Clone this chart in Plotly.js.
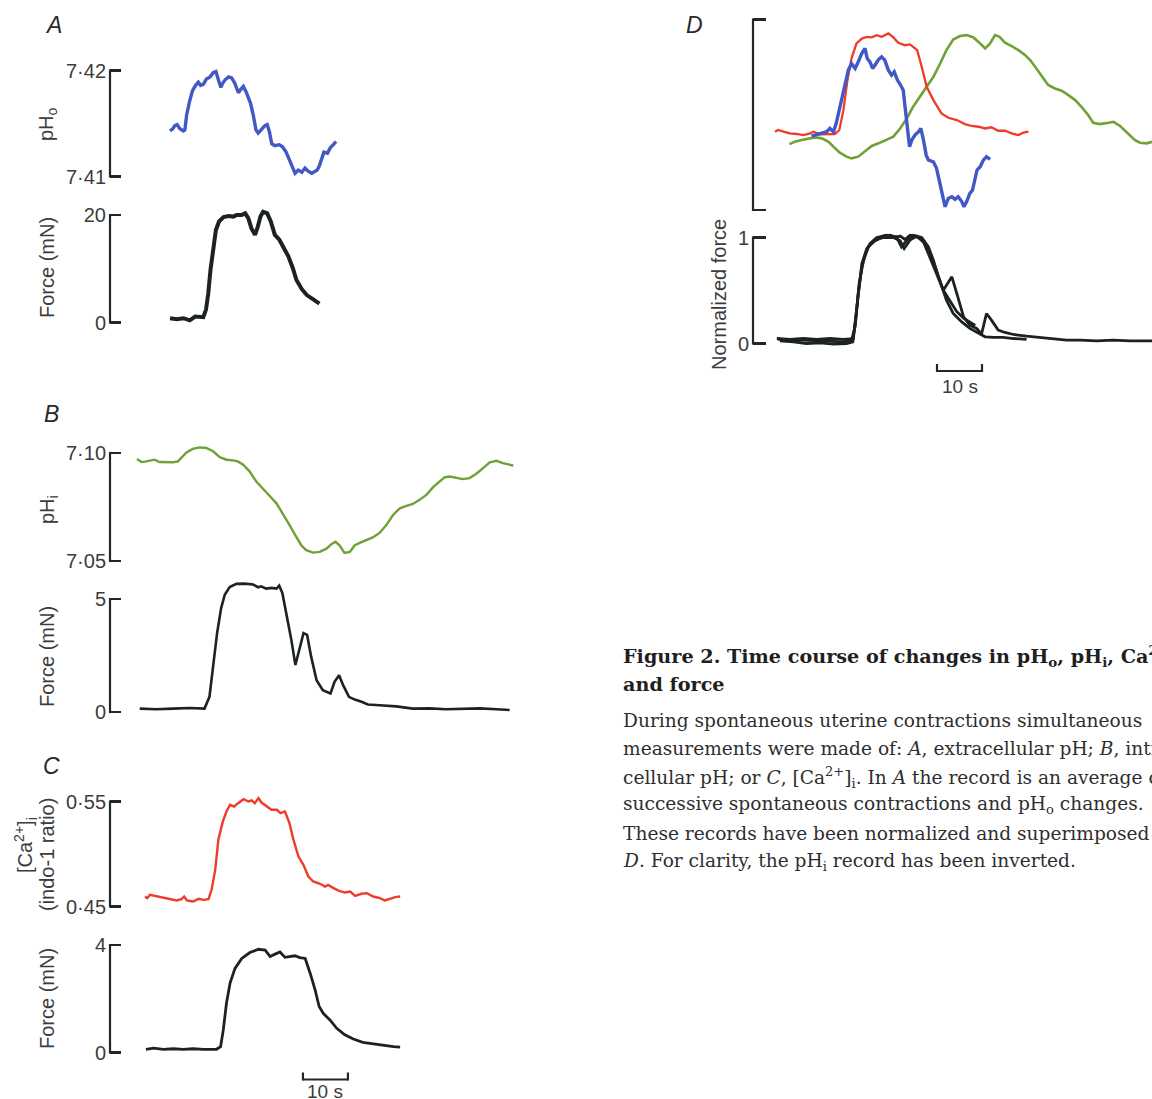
<!DOCTYPE html>
<html>
<head>
<meta charset="utf-8">
<script src="https://cdn.plot.ly/plotly-3.0.1.min.js"></script>
<style>
html,body{margin:0;padding:0;background:#fff;overflow:hidden;}
#chart{width:1152px;height:1099px;}
</style>
</head>
<body>
<div id="chart"></div>
<script>
// ---------------- DATA (time in s from trace start) ----------------
// Panel A: extracellular pH and force
const tA_pHo = [0,0.6,1.1,1.6,2.2,3.0,3.3,3.7,4.3,5.0,5.7,6.3,6.8,7.4,8.1,8.9,9.6,10.2,10.7,11.3,11.7,12.2,13.0,13.7,14.4,15.2,15.7,16.3,16.9,17.4,17.9,18.5,19.1,19.6,20.4,21.1,21.6,22.1,22.6,23.3,24.3,25.0,25.8,26.5,27.3,27.8,28.5,29.3,30.0,30.7,31.5,32.2,32.7,33.2,33.7,34.2,35.0,35.6,36.3,36.9];
const A_pHo = [7.4143,7.4145,7.4148,7.4149,7.4145,7.4143,7.4144,7.4158,7.4170,7.4181,7.4186,7.4189,7.4186,7.4187,7.4192,7.4194,7.4198,7.4199,7.4192,7.4184,7.4188,7.4191,7.4194,7.4193,7.4188,7.4179,7.4182,7.4185,7.4180,7.4175,7.4169,7.4158,7.4144,7.4141,7.4145,7.4148,7.4149,7.4142,7.4131,7.4129,7.4130,7.4128,7.4123,7.4116,7.4106,7.4103,7.4106,7.4104,7.4108,7.4105,7.4103,7.4105,7.4106,7.4110,7.4116,7.4123,7.4122,7.4127,7.4130,7.4133];
const tA_force = [0,1.5,3.0,4.4,5.6,7.4,8.0,8.5,9.0,9.6,10.2,10.9,11.9,13.0,14.1,14.8,15.9,16.7,17.4,18.1,18.9,19.5,20.1,20.7,21.6,22.4,23.3,24.3,25.2,26.3,27.3,28.1,29.3,30.4,31.5,32.5,33.2];
const A_force = [0.8,0.6,0.8,0.4,1.1,1.0,2.4,5.4,9.8,14.1,17.2,18.8,19.6,19.8,19.7,20.0,20.0,20.3,19.4,17.5,16.3,17.8,19.7,20.6,20.3,18.8,16.3,15.4,14.1,12.3,10.1,7.9,6.2,5.1,4.5,3.9,3.5];

// Panel B: intracellular pH and force
const tB_pHi = [0,1.0,2.1,3.2,3.9,5.0,6.5,8.0,9.1,9.9,11.0,12.4,13.9,15.4,16.9,18.4,19.9,21.3,22.4,23.6,25.0,26.5,28.0,29.5,31.0,32.4,33.9,35.4,36.5,37.6,39.1,40.6,42.1,43.2,44.1,45.0,46.1,47.3,48.4,49.5,51.0,52.4,53.9,55.4,56.9,58.4,59.9,61.3,62.8,64.3,65.8,67.3,68.4,69.5,71.0,72.4,73.9,75.4,76.9,78.4,79.9,81.3,82.8,83.6];
const B_pHi = [7.0972,7.0958,7.0961,7.0964,7.0969,7.0958,7.0958,7.0957,7.0961,7.0980,7.1003,7.1019,7.1026,7.1023,7.1008,7.0981,7.0969,7.0966,7.0961,7.0946,7.0915,7.0868,7.0832,7.0801,7.0767,7.0720,7.0666,7.0612,7.0573,7.0550,7.0539,7.0542,7.0557,7.0578,7.0589,7.0573,7.0537,7.0542,7.0573,7.0584,7.0596,7.0609,7.0630,7.0666,7.0713,7.0744,7.0755,7.0764,7.0783,7.0806,7.0842,7.0868,7.0888,7.0891,7.0884,7.0879,7.0884,7.0904,7.0930,7.0957,7.0964,7.0953,7.0946,7.0941];
const tB_force = [0.6,4.3,8.0,11.7,15.0,16.1,16.9,17.8,18.7,19.5,20.6,22.1,23.9,25.8,26.9,27.6,28.7,29.9,31.0,31.6,32.3,33.2,34.3,35.2,36.1,37.0,37.8,38.7,39.9,41.3,43.0,43.9,44.9,45.8,47.1,48.4,49.9,51.3,53.9,57.6,61.3,65.0,68.7,72.4,76.2,79.9,82.8];
const B_force = [0.15,0.12,0.15,0.18,0.15,0.67,2.00,3.49,4.60,5.19,5.53,5.67,5.68,5.64,5.52,5.56,5.46,5.49,5.46,5.59,5.27,4.38,3.19,2.08,2.74,3.49,3.41,2.45,1.41,0.96,0.82,1.34,1.63,1.19,0.67,0.55,0.45,0.33,0.30,0.25,0.15,0.16,0.12,0.15,0.16,0.12,0.09];

// Panel C: [Ca2+]i (indo-1 ratio) and force
const tC_ca = [0,0.5,1.1,2.0,3.0,4.1,5.6,7.0,8.1,8.7,9.3,10.7,11.9,13.0,14.1,14.8,15.6,16.3,17.3,18.1,18.9,19.8,20.7,21.9,23.0,23.7,24.4,25.2,25.9,27.0,28.1,29.3,30.1,31.1,32.1,33.0,34.1,35.2,36.3,37.4,38.9,40.0,40.7,41.9,43.0,44.4,45.6,46.7,48.1,49.3,50.7,52.2,53.3,54.4,55.6,56.7];
const C_ca = [0.4595,0.4579,0.4611,0.4602,0.4595,0.4583,0.4573,0.4557,0.4570,0.4595,0.4557,0.4548,0.4573,0.4563,0.4570,0.4659,0.4849,0.5135,0.5310,0.5405,0.5468,0.5452,0.5484,0.5522,0.5500,0.5510,0.5484,0.5532,0.5490,0.5452,0.5421,0.5421,0.5389,0.5405,0.5294,0.5135,0.4976,0.4897,0.4786,0.4738,0.4716,0.4690,0.4706,0.4675,0.4652,0.4633,0.4643,0.4602,0.4621,0.4627,0.4595,0.4579,0.4557,0.4573,0.4589,0.4595];
const tC_force = [0.2,1.9,4.1,6.3,8.5,10.7,13.0,15.9,16.8,17.4,18.1,18.9,20.0,21.5,23.3,25.2,26.7,27.8,28.9,30.0,31.1,32.2,33.3,34.4,35.6,36.7,37.8,38.7,39.6,41.1,42.6,44.4,46.3,48.4,50.7,52.9,55.2,56.7];
const C_force = [0.12,0.16,0.12,0.14,0.12,0.14,0.12,0.12,0.22,0.84,1.83,2.58,3.13,3.50,3.72,3.84,3.81,3.57,3.66,3.74,3.54,3.57,3.60,3.53,3.50,2.95,2.33,1.71,1.46,1.21,0.90,0.66,0.50,0.38,0.32,0.28,0.22,0.20];

// Panel D: normalized, superimposed records (pHi inverted)
const tD_ca = [0,0.7,1.9,3.3,4.8,6.3,7.8,8.5,10.0,11.9,13.3,14.3,15.2,16.1,17.0,18.1,19.3,20.4,21.5,22.6,23.7,25.2,26.3,27.4,28.9,30.0,30.7,31.6,32.6,33.7,35.2,37.0,38.5,40.4,42.2,43.7,45.2,46.7,48.1,49.6,51.1,52.6,54.1,55.2,56.3];
const D_ca = [0.411,0.420,0.411,0.402,0.399,0.393,0.402,0.411,0.397,0.399,0.399,0.420,0.524,0.682,0.795,0.874,0.900,0.909,0.906,0.918,0.909,0.927,0.906,0.878,0.865,0.869,0.857,0.839,0.752,0.647,0.577,0.507,0.484,0.472,0.451,0.441,0.437,0.428,0.434,0.416,0.416,0.402,0.393,0.406,0.411];
const tD_pHo = [8.1,10.0,11.5,12.2,13.0,13.6,14.3,15.0,15.7,16.3,17.0,17.8,18.5,19.3,20.0,20.5,21.1,21.7,22.2,23.0,23.7,24.4,25.2,25.9,26.5,27.2,27.9,28.5,28.9,29.3,29.9,30.4,31.1,31.9,32.4,33.0,33.6,34.1,35.2,35.9,36.7,37.4,37.8,38.5,39.3,40.0,40.7,41.5,42.0,42.6,43.3,43.9,44.4,44.9,45.6,46.3,47.0,47.8];
const D_pHo = [0.388,0.399,0.411,0.428,0.411,0.455,0.524,0.603,0.664,0.734,0.769,0.743,0.778,0.822,0.848,0.795,0.778,0.743,0.760,0.790,0.804,0.787,0.734,0.708,0.725,0.682,0.656,0.629,0.542,0.455,0.332,0.367,0.393,0.411,0.428,0.367,0.288,0.262,0.253,0.219,0.131,0.052,0.017,0.061,0.070,0.056,0.070,0.044,0.017,0.044,0.087,0.105,0.157,0.210,0.227,0.262,0.280,0.266];
const tD_pHi = [3.2,4.4,5.9,7.4,8.9,10.4,11.9,13.0,14.4,15.9,17.0,18.5,20.0,21.5,23.0,24.8,26.3,27.8,29.3,30.7,32.2,33.7,35.2,36.7,38.1,39.6,41.1,42.6,44.1,45.6,46.7,47.8,48.9,49.9,51.1,52.6,54.1,55.6,56.7,57.8,59.3,60.7,62.2,63.7,65.2,66.7,68.1,69.6,70.7,72.2,74.1,75.2,76.7,78.5,80.0,81.1,82.6,83.8];
const D_pHi = [0.346,0.358,0.367,0.376,0.381,0.376,0.358,0.332,0.301,0.280,0.271,0.280,0.306,0.336,0.350,0.367,0.385,0.428,0.481,0.542,0.594,0.643,0.699,0.769,0.839,0.895,0.913,0.918,0.906,0.874,0.848,0.874,0.918,0.909,0.878,0.860,0.839,0.813,0.787,0.752,0.699,0.656,0.638,0.626,0.603,0.577,0.542,0.498,0.458,0.451,0.458,0.463,0.441,0.402,0.367,0.353,0.350,0.358];
const tD_forceB = [0.7,3.3,6.3,9.3,12.2,15.2,17.0,17.8,18.5,19.3,20.0,21.1,22.6,24.8,27.0,28.1,29.3,30.7,32.6,34.1,35.2,36.3,37.4,38.1,39.3,40.4,41.9,43.3,44.8,45.9,47.0,48.1,49.6,51.1,53.0,55.9,58.9,61.9,64.8,67.8,71.5,75.2,78.9,83.8];
const D_forceB = [0.038,0.031,0.031,0.025,0.016,0.016,0.031,0.157,0.472,0.723,0.833,0.943,1.0,1.022,1.006,0.912,0.975,1.022,1.0,0.912,0.786,0.629,0.503,0.550,0.629,0.472,0.252,0.173,0.142,0.090,0.283,0.220,0.126,0.104,0.085,0.069,0.057,0.047,0.031,0.031,0.025,0.031,0.025,0.025];
const tD_forceA = [1.1,4.1,7.0,10.0,13.0,15.9,17.3,18.0,18.7,19.6,20.7,22.2,24.1,26.3,27.8,28.7,30.0,31.5,33.0,34.4,35.9,37.4,38.9,40.4,41.9,43.3,44.5];
const D_forceA = [0.025,0.016,0.0,0.006,-0.006,0.0,0.016,0.252,0.566,0.770,0.912,0.975,1.0,1.0,0.969,0.896,0.975,1.013,0.959,0.818,0.660,0.503,0.400,0.300,0.240,0.200,0.170];
const tD_forceC = [0.4,3.3,6.3,9.3,12.2,15.2,17.4,18.3,19.3,20.4,21.9,24.1,25.6,26.7,27.8,28.9,30.0,31.1,32.2,33.3,34.4,35.6,36.7,38.1,39.6,41.5,43.3,45.2,46.7,48.5,50.7,53.0,55.9];
const D_forceC = [0.047,0.038,0.047,0.038,0.047,0.038,0.047,0.409,0.755,0.896,0.959,1.013,1.022,1.0,1.013,0.981,1.022,1.013,0.991,0.943,0.849,0.723,0.582,0.409,0.283,0.204,0.142,0.094,0.063,0.057,0.057,0.047,0.038];

// Tick labels
const ticksA_pHo = {vals:[7.41,7.42], text:['7·41','7·42']};
const ticksA_force = {vals:[0,20], text:['0','20']};
const ticksB_pHi = {vals:[7.05,7.10], text:['7·05','7·10']};
const ticksB_force = {vals:[0,5], text:['0','5']};
const ticksC_ca = {vals:[0.45,0.55], text:['0·45','0·55']};
const ticksC_force = {vals:[0,4], text:['0','4']};
const ticksD_norm = {vals:[0,1], text:['','']};
const ticksD_force = {vals:[0,1], text:['0','1']};

// ---------------- LAYOUT ----------------
const W = 1152, H = 1099, PX_PER_S = 4.5;
const xd = px => px / W;
const yd = py => 1 - py / H;

const INK = '#222626';
const BLUE = '#4258c4', GREEN = '#6fa136', RED = '#ef3b2c', BLACK = '#1c2222';
const SANS = 'Liberation Sans, Arial, Helvetica, sans-serif';
const SERIF = 'DejaVu Serif, Liberation Serif, serif';
const LABEL = '#3c3c3c';

// panel geometry (pixels): axis line x, x-origin of data (t=0), right edge, tick pixel rows
const panels = [
  {axis:110, x0:170, right:600, top:70.5,  bot:176.5,  ticks:ticksA_pHo,  padT:14, padB:14, tl:11},
  {axis:110, x0:170, right:600, top:215,   bot:322.5,  ticks:ticksA_force, padT:12, padB:10, tl:11},
  {axis:110, x0:137, right:600, top:453,   bot:561,    ticks:ticksB_pHi,  padT:12, padB:12, tl:11},
  {axis:110, x0:137, right:600, top:599,   bot:712,    ticks:ticksB_force, padT:22, padB:10, tl:11},
  {axis:110, x0:145, right:600, top:801.5, bot:906.5,  ticks:ticksC_ca,   padT:10, padB:10, tl:11},
  {axis:110, x0:145, right:600, top:945,   bot:1052.5, ticks:ticksC_force, padT:10, padB:10, tl:11},
  {axis:753, x0:775, right:1152, top:19.5, bot:210,    ticks:ticksD_norm, padT:10, padB:10, tl:13},
  {axis:753, x0:775, right:1152, top:237.5, bot:343.5, ticks:ticksD_force, padT:12, padB:10, tl:13}
];

const layout = {
  width: W, height: H,
  margin: {l:0, r:0, t:0, b:0, pad:0},
  paper_bgcolor: '#ffffff', plot_bgcolor: 'rgba(0,0,0,0)',
  showlegend: false,
  shapes: [], annotations: []
};

panels.forEach((p, i) => {
  const n = i === 0 ? '' : String(i + 1);
  const vBot = p.ticks.vals[0], vTop = p.ticks.vals[1];
  const k = (vTop - vBot) / (p.bot - p.top);
  layout['xaxis' + n] = {
    domain: [xd(p.axis), xd(p.right)],
    range: [(p.axis - p.x0) / PX_PER_S, (p.right - p.x0) / PX_PER_S],
    visible: false, fixedrange: true
  };
  layout['yaxis' + n] = {
    anchor: 'x' + n,
    domain: [yd(p.bot + p.padB), yd(p.top - p.padT)],
    range: [vBot - p.padB * k, vTop + p.padT * k],
    tickmode: 'array', tickvals: p.ticks.vals, ticktext: p.ticks.text,
    ticks: 'inside', ticklen: p.tl, tickwidth: 2.2, tickcolor: INK,
    ticklabelstandoff: 3,
    showline: false, showgrid: false, zeroline: false, fixedrange: true,
    tickfont: {family: SANS, size: 20, color: LABEL}
  };
  // bracket spine between the two ticks
  layout.shapes.push({
    type: 'line', xref: 'paper', yref: 'y' + n,
    x0: xd(p.axis), x1: xd(p.axis),
    y0: vBot - 1.1 * k, y1: vTop + 1.1 * k,
    line: {color: INK, width: 2.2}
  });
});

// time scale bars (10 s) drawn on the panel time axes
function scaleBar(axisName, tStart, yBottomPx, yTopPx, textYPx) {
  const xr = axisName;
  layout.shapes.push({type:'line', xref:xr, yref:'paper', x0:tStart, x1:tStart + 10, y0:yd(yBottomPx), y1:yd(yBottomPx), line:{color:INK, width:2.2}});
  layout.shapes.push({type:'line', xref:xr, yref:'paper', x0:tStart, x1:tStart, y0:yd(yBottomPx + 1), y1:yd(yTopPx), line:{color:INK, width:2.2}});
  layout.shapes.push({type:'line', xref:xr, yref:'paper', x0:tStart + 10, x1:tStart + 10, y0:yd(yBottomPx + 1), y1:yd(yTopPx), line:{color:INK, width:2.2}});
  layout.annotations.push({xref:xr, yref:'paper', x:tStart + 5, y:yd(textYPx), text:'10 s', showarrow:false,
    xanchor:'center', yanchor:'middle', font:{family:SANS, size:19, color:LABEL}});
}
scaleBar('x6', 35.1, 1079.5, 1072.5, 1091);
scaleBar('x8', 36.0, 371, 364, 386);

// text annotations
function ann(text, xpx, ypx, opts) {
  layout.annotations.push(Object.assign({
    xref:'paper', yref:'paper', x:xd(xpx), y:yd(ypx), text:text, showarrow:false,
    xanchor:'center', yanchor:'middle', font:{family:SANS, size:20, color:LABEL}
  }, opts || {}));
}
// panel letters
const letterFont = {family:SANS, size:23, color:'#2a2a2a'};
ann('<i>A</i>', 53, 25, {font:letterFont});
ann('<i>B</i>', 51, 414, {font:letterFont});
ann('<i>C</i>', 51, 766, {font:letterFont});
ann('<i>D</i>', 694, 25, {font:letterFont});
// axis labels (rotated)
ann('pH<sub>o</sub>', 48, 124, {textangle:-90});
ann('Force (mN)', 47, 268, {textangle:-90});
ann('pH<sub>i</sub>', 48, 510, {textangle:-90});
ann('Force (mN)', 47, 657, {textangle:-90});
ann('[Ca<sup>2+</sup>]<sub>i</sub>', 25, 845, {textangle:-90});
ann('(indo-1 ratio)', 47, 855, {textangle:-90});
ann('Force (mN)', 47, 999, {textangle:-90});
ann('Normalized force', 719, 295, {textangle:-90});

// caption
const capTitle = {family:SERIF, size:19.2, color:'#1f1f1f'};
const capBody = {family:SERIF, size:18.6, color:'#2e2e2e'};
const capLines = [
  ['<b>Figure 2. Time course of changes in pH<sub>o</sub>, pH<sub>i</sub>, Ca<sup>2+</sup></b>', 656, capTitle],
  ['<b>and force</b>', 684, capTitle],
  ['During spontaneous uterine contractions simultaneous', 720, capBody],
  ['measurements were made of: <i>A</i>, extracellular pH; <i>B</i>, intra-', 748, capBody],
  ['cellular pH; or <i>C</i>, [Ca<sup>2+</sup>]<sub>i</sub>. In <i>A</i> the record is an average of', 777, capBody],
  ['successive spontaneous contractions and pH<sub>o</sub> changes.', 805, capBody],
  ['These records have been normalized and superimposed in', 833, capBody],
  ['<i>D</i>. For clarity, the pH<sub>i</sub> record has been inverted.', 862, capBody]
];
capLines.forEach(l => ann(l[0], 621, l[1], {xanchor:'left', font:l[2]}));

// ---------------- TRACES ----------------
const line = (x, y, ax, color, width) => ({
  type:'scatter', mode:'lines', x:x, y:y,
  xaxis:'x' + ax, yaxis:'y' + ax,
  line:{color:color, width:width, shape:'linear'}, hoverinfo:'skip'
});
const data = [
  line(tA_pHo, A_pHo, '', BLUE, 3.4),
  line(tA_force, A_force, '2', BLACK, 4),
  line(tB_pHi, B_pHi, '3', GREEN, 2.4),
  line(tB_force, B_force, '4', BLACK, 2.6),
  line(tC_ca, C_ca, '5', RED, 2.4),
  line(tC_force, C_force, '6', BLACK, 2.8),
  line(tD_pHi, D_pHi, '7', GREEN, 2.6),
  line(tD_ca, D_ca, '7', RED, 2.3),
  line(tD_pHo, D_pHo, '7', BLUE, 3.4),
  line(tD_forceB, D_forceB, '8', BLACK, 2.8),
  line(tD_forceA, D_forceA, '8', BLACK, 2.8),
  line(tD_forceC, D_forceC, '8', BLACK, 2.8)
];

Plotly.newPlot('chart', data, layout, {staticPlot:true, displayModeBar:false});
</script>
</body>
</html>
